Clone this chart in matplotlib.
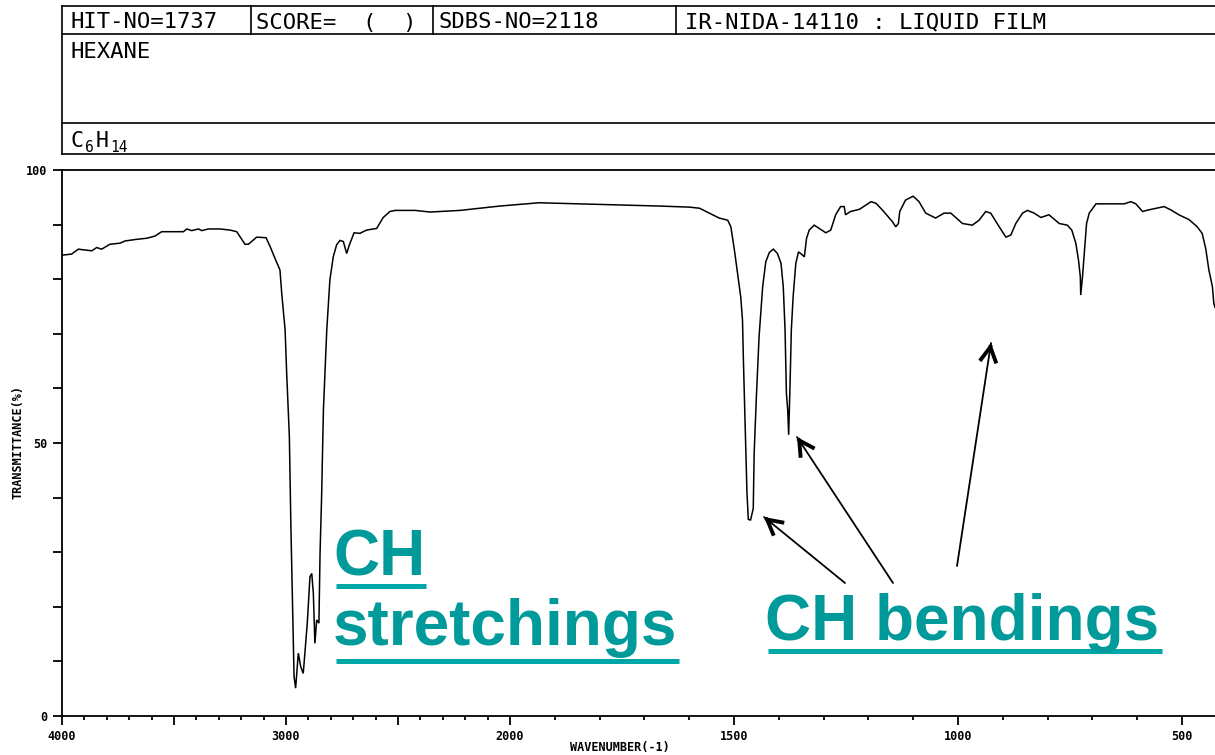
import numpy as np
import matplotlib
matplotlib.use("Agg")
import matplotlib.pyplot as plt
from matplotlib.lines import Line2D
from matplotlib.patches import FancyArrowPatch
from matplotlib.ticker import FixedLocator, FixedFormatter

# ---------------------------------------------------------------- data
wavenumber = [
    4000, 3957, 3927, 3867, 3845, 3823, 3786, 3741, 3719, 3667, 3622, 3585,
    3555, 3458, 3443, 3421, 3391, 3376, 3347, 3295, 3250, 3220, 3183, 3168,
    3131, 3089, 3071, 3049, 3027, 3019, 3004, 2997, 2985, 2978, 2970, 2964,
    2957, 2945, 2934, 2923, 2905, 2893, 2885, 2878, 2871, 2863, 2853, 2848,
    2841, 2833, 2818, 2804, 2789, 2774, 2759, 2744, 2729, 2717, 2696, 2670,
    2640, 2595, 2566, 2536, 2513, 2424, 2357, 2223, 2045, 1935, 1845, 1756,
    1667, 1600, 1577, 1555, 1533, 1514, 1507, 1499, 1490, 1485, 1481, 1479,
    1475, 1471, 1468, 1463, 1457, 1455, 1450, 1444, 1436, 1429, 1421, 1412,
    1403, 1395, 1390, 1386, 1383, 1380, 1378, 1375, 1372, 1368, 1362, 1356,
    1351, 1343, 1338, 1332, 1321, 1310, 1295, 1284, 1273, 1262, 1254, 1251,
    1240, 1220, 1194, 1183, 1169, 1146, 1139, 1133, 1130, 1117, 1100, 1087,
    1072, 1050, 1031, 1016, 990, 968, 953, 938, 927, 908, 893, 882,
    871, 856, 845, 830, 815, 797, 774, 756, 746, 737, 731, 727,
    726, 722, 718, 713, 707, 692, 677, 629, 614, 603, 588, 574,
    540, 525, 507, 484, 466, 455, 447, 440, 432, 429, 426,
]
transmittance = [
    84.4, 84.6, 85.5, 85.2, 85.8, 85.5, 86.4, 86.6, 87.0, 87.3, 87.5, 87.9,
    88.7, 88.7, 89.2, 88.9, 89.2, 88.9, 89.2, 89.2, 89.0, 88.7, 86.4, 86.4,
    87.7, 87.6, 86.0, 83.8, 81.7, 77.4, 70.7, 62.8, 51.2, 34.4, 18.5, 7.2,
    5.1, 11.5, 9.0, 7.8, 17.0, 25.5, 26.1, 22.5, 13.3, 17.6, 17.0, 29.8,
    40.2, 56.0, 70.7, 79.9, 84.1, 86.3, 87.1, 86.9, 84.7, 86.3, 88.5, 88.4,
    89.0, 89.3, 91.3, 92.4, 92.6, 92.6, 92.3, 92.6, 93.4, 94.0, 93.8, 93.6,
    93.4, 93.2, 93.0, 92.1, 91.2, 90.8, 89.6, 85.3, 79.9, 76.8, 72.5, 65.2,
    53.0, 40.8, 36.0, 35.9, 38.0, 48.1, 58.5, 69.5, 78.6, 83.2, 84.9, 85.5,
    84.7, 82.9, 78.6, 70.7, 59.1, 56.0, 51.5, 60.3, 70.7, 76.8, 82.9, 85.0,
    84.7, 84.1, 87.5, 89.0, 89.9, 89.3, 88.5, 89.0, 91.8, 93.3, 93.3, 91.8,
    92.4, 92.8, 94.2, 93.9, 92.7, 90.5, 89.6, 90.2, 92.4, 94.5, 95.2, 94.2,
    92.1, 91.2, 92.1, 92.1, 90.2, 89.9, 90.8, 92.4, 92.1, 89.6, 87.7, 88.1,
    90.2, 92.1, 92.6, 92.1, 91.3, 91.8, 90.2, 89.9, 89.0, 86.6, 83.5, 80.5,
    77.1, 80.5, 84.7, 90.2, 92.1, 93.8, 93.8, 93.8, 94.2, 93.8, 92.4, 92.7,
    93.3, 92.7, 91.8, 90.9, 89.6, 88.4, 85.6, 81.7, 78.6, 75.6, 74.8,
]

x_major = [4000, 3500, 3000, 2500, 2000, 1500, 1000, 500]
x_major_labels = ["4000", "", "3000", "", "2000", "1500", "1000", "500"]
x_minor = [w for w in range(3900, 400, -100) if w not in x_major]
y_ticks = list(range(0, 101, 10))
y_tick_labels = ["0", "", "", "", "", "50", "", "", "", "", "100"]

header_cells = ["HIT-NO=1737", "SCORE=  (  )", "SDBS-NO=2118",
                "IR-NIDA-14110 : LIQUID FILM"]
compound_name = "HEXANE"
formula_parts = ["C", "6", "H", "14"]
stretch_label = ["CH", "stretchings"]
bend_label = "CH bendings"

# ---------------------------------------------------------------- figure
W, H = 1215, 755
fig = plt.figure(figsize=(W / 100, H / 100), dpi=100)
fig.patch.set_facecolor("white")

MONO = "DejaVu Sans Mono"
TEAL = "#009a9a"
TEAL_LINE = "#00a7a7"


def fx(px):
    return px / W


def fy(py):
    return 1 - py / H


def hline(x0, x1, y, **kw):
    fig.add_artist(Line2D([fx(x0), fx(x1)], [fy(y), fy(y)],
                          transform=fig.transFigure, **kw))


def vline(x, y0, y1, **kw):
    fig.add_artist(Line2D([fx(x), fx(x)], [fy(y0), fy(y1)],
                          transform=fig.transFigure, **kw))


# spectrum axes: 4000-2000 at half the scale of 2000-400
def fwd(w):
    w = np.asarray(w, dtype=float)
    return np.where(w >= 2000, w / 2.0 - 1000.0, w - 2000.0)


def inv(u):
    u = np.asarray(u, dtype=float)
    return np.where(u >= 0, 2.0 * (u + 1000.0), u + 2000.0)


ax = fig.add_axes([fx(62), (H - 716) / H, (W - 62) / W, 546 / H])
ax.set_xscale("function", functions=(fwd, inv))
ax.set_xlim(4000, 426.3)
ax.set_ylim(0, 100)
ax.plot(wavenumber, transmittance, color="black", lw=1.1,
        solid_joinstyle="miter")

for side in ("left", "bottom", "top"):
    ax.spines[side].set_linewidth(1.3)
ax.spines["right"].set_visible(False)

ax.xaxis.set_major_locator(FixedLocator(x_major))
ax.xaxis.set_major_formatter(FixedFormatter(x_major_labels))
ax.xaxis.set_minor_locator(FixedLocator(x_minor))
ax.yaxis.set_major_locator(FixedLocator(y_ticks))
ax.yaxis.set_major_formatter(FixedFormatter(y_tick_labels))
ax.yaxis.set_minor_locator(FixedLocator([]))
ax.tick_params(axis="x", which="major", direction="out", length=6.5,
               width=1.3, pad=3.5)
ax.tick_params(axis="x", which="minor", direction="out", length=3,
               width=1.3)
ax.tick_params(axis="y", which="major", direction="out", length=6.5,
               width=1.3, pad=4)
for lab in ax.get_xticklabels() + ax.get_yticklabels():
    lab.set_fontfamily(MONO)
    lab.set_fontweight("bold")
    lab.set_fontsize(8.5)

fig.text(fx(18), fy(442), "TRANSMITTANCE(%)", rotation=90, ha="center",
         va="center", family=MONO, fontweight="bold", fontsize=8.5)
fig.text(fx(620), fy(747), "WAVENUMBER(-1)", ha="center", va="center",
         family=MONO, fontweight="bold", fontsize=8.5)

# ---------------------------------------------------------------- header box
box_kw = dict(color="black", lw=1.2)
for y in (6, 34, 123, 154):
    hline(62, W + 5, y, **box_kw)
vline(62, 6, 154, **box_kw)
for x in (251, 433, 676):
    vline(x, 6, 34, **box_kw)

for x, s in zip((71, 256, 439, 685), header_cells):
    fig.text(fx(x), fy(28.5), s, family=MONO, fontsize=16,
             va="baseline", ha="left")
fig.text(fx(71), fy(58.5), compound_name, family=MONO, fontsize=16,
         va="baseline", ha="left")
for x, y, s, size in zip((71, 85.5, 95.5, 110.5), (146.7, 151.7, 146.7, 151.7),
                         formula_parts, (15.5, 10.5, 15.5, 10.5)):
    fig.text(fx(x), fy(y), s, family=MONO, fontsize=size,
             va="baseline", ha="left")

# ---------------------------------------------------------------- annotations
ann_kw = dict(family="Liberation Sans", fontweight="bold", fontsize=46,
              color=TEAL, va="baseline", ha="left")
fig.text(fx(333), fy(576), stretch_label[0], **ann_kw)
fig.text(fx(333), fy(645), stretch_label[1], **ann_kw)
fig.text(fx(765), fy(640), bend_label, **ann_kw)

ul_kw = dict(color=TEAL_LINE, lw=3.6, solid_capstyle="butt")
hline(336, 426, 585.5, **ul_kw)
hline(336, 679, 660.5, **ul_kw)
hline(768, 1162, 650.5, **ul_kw)


def arrow(tail, head):
    p0 = (fx(tail[0]), fy(tail[1]))
    p1 = (fx(head[0]), fy(head[1]))
    fig.add_artist(FancyArrowPatch(p0, p1, transform=fig.transFigure,
                                   arrowstyle="-", lw=1.3, color="black",
                                   shrinkA=0, shrinkB=0))
    d = np.array(head, float) - np.array(tail, float)
    d /= np.hypot(*d)
    near = np.array(head, float) - 2.0 * d
    fig.add_artist(FancyArrowPatch((fx(near[0]), fy(near[1])), p1,
                                   transform=fig.transFigure,
                                   arrowstyle="->,head_length=0.55,head_width=0.3",
                                   mutation_scale=20, lw=2.8, color="black",
                                   shrinkA=0, shrinkB=0,
                                   joinstyle="miter", capstyle="butt"))


arrow((845, 583), (764, 517))
arrow((893, 583), (797, 437))
arrow((957, 566), (991, 343))

fig.savefig("out.png", dpi=100, facecolor="white")
